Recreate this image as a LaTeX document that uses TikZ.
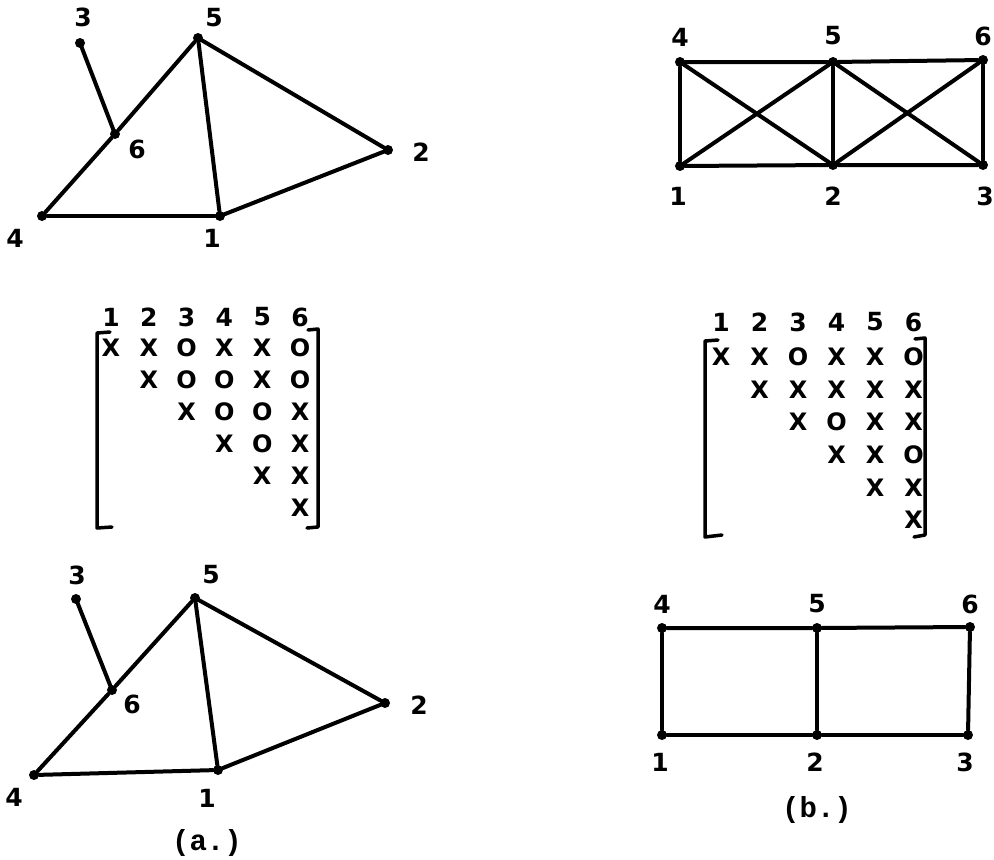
\documentclass[tikz,border=0pt]{standalone}
\usepackage{fontspec}
\setmainfont{DejaVu Sans}
\newfontfamily\capfont{Liberation Mono}
\begin{document}
\begin{tikzpicture}[x=1pt,y=-1pt,
  vtx/.style={circle,fill=black,inner sep=0pt,minimum size=10pt},
  edge/.style={line width=4pt,line cap=round},
  lbl/.style={font=\fontsize{25}{25}\selectfont\bfseries,inner sep=0pt},
  cell/.style={font=\fontsize{24}{24}\selectfont\bfseries,inner sep=0pt},
  brk/.style={line width=3.5pt,line cap=round,line join=round},
  figcap/.style={font=\fontsize{29}{29}\selectfont\capfont\bfseries,inner sep=0pt}]
\path[use as bounding box] (0,0) rectangle (994,860);

% ---------- graph (a) top ----------
\node[vtx] (at3) at (80,43) {};
\node[vtx] (at5) at (198,38) {};
\node[vtx] (at6) at (115,134) {};
\node[vtx] (at2) at (388,150) {};
\node[vtx] (at4) at (42,216) {};
\node[vtx] (at1) at (220,216) {};
\node[lbl] (lat3) at (83,17) {3};
\node[lbl] (lat5) at (214,18) {5};
\node[lbl] (lat6) at (137,149) {6};
\node[lbl] (lat2) at (421,152) {2};
\node[lbl] (lat4) at (15,238) {4};
\node[lbl] (lat1) at (212,238) {1};
\draw[edge] (at3) -- (at6);
\draw[edge] (at4) -- (at6);
\draw[edge] (at6) -- (at5);
\draw[edge] (at5) -- (at1);
\draw[edge] (at5) -- (at2);
\draw[edge] (at2) -- (at1);
\draw[edge] (at4) -- (at1);

% ---------- graph (b) top ----------
\node[vtx] (bt4) at (680,62) {};
\node[vtx] (bt5) at (833,62) {};
\node[vtx] (bt6) at (983,60) {};
\node[vtx] (bt1) at (680,166) {};
\node[vtx] (bt2) at (833,165) {};
\node[vtx] (bt3) at (983,165) {};
\node[lbl] (lbt4) at (680,37) {4};
\node[lbl] (lbt5) at (833,36) {5};
\node[lbl] (lbt6) at (983,36) {6};
\node[lbl] (lbt1) at (678,196) {1};
\node[lbl] (lbt2) at (833,196) {2};
\node[lbl] (lbt3) at (985,196) {3};
\draw[edge] (bt4) -- (bt5) -- (bt6);
\draw[edge] (bt1) -- (bt2) -- (bt3);
\draw[edge] (bt4) -- (bt1);
\draw[edge] (bt5) -- (bt2);
\draw[edge] (bt6) -- (bt3);
\draw[edge] (bt4) -- (bt2);
\draw[edge] (bt1) -- (bt5);
\draw[edge] (bt5) -- (bt3);
\draw[edge] (bt2) -- (bt6);

% ---------- matrix (a) ----------
\foreach \c in {1,...,6}
  \node[lbl] (mah\c) at ({111+37.8*(\c-1)},317) {\c};
\foreach \r/\entries in {1/{1/X,2/X,3/O,4/X,5/X,6/O},
                         2/{2/X,3/O,4/O,5/X,6/O},
                         3/{3/X,4/O,5/O,6/X},
                         4/{4/X,5/O,6/X},
                         5/{5/X,6/X},
                         6/{6/X}}
  \foreach \c/\ch in \entries
    \node[cell] (ma\r\c) at ({111+37.8*(\c-1)},{348+32*(\r-1)}) {\ch};
\draw[brk] (110,332) -- (97,333) -- (97,528) -- (112,527);
\draw[brk] (308,330) -- (318,329) -- (318,527) -- (307,528);

% ---------- matrix (b) ----------
\foreach \c in {1,...,6}
  \node[lbl] (mbh\c) at ({721+38.5*(\c-1)},322) {\c};
\foreach \r/\entries in {1/{1/X,2/X,3/O,4/X,5/X,6/O},
                         2/{2/X,3/X,4/X,5/X,6/X},
                         3/{3/X,4/O,5/X,6/X},
                         4/{4/X,5/X,6/O},
                         5/{5/X,6/X},
                         6/{6/X}}
  \foreach \c/\ch in \entries
    \node[cell] (mb\r\c) at ({721+38.5*(\c-1)},{357+32.6*(\r-1)}) {\ch};
\draw[brk] (718,340) -- (705,341) -- (705,537) -- (722,535);
\draw[brk] (915,339) -- (925,338) -- (925,535) -- (914,537);

% ---------- graph (a) bottom ----------
\node[vtx] (ab3) at (76,599) {};
\node[vtx] (ab5) at (195,598) {};
\node[vtx] (ab6) at (112,690) {};
\node[vtx] (ab2) at (385,703) {};
\node[vtx] (ab4) at (34,775) {};
\node[vtx] (ab1) at (218,770) {};
\node[lbl] (lab3) at (77,575) {3};
\node[lbl] (lab5) at (211,575) {5};
\node[lbl] (lab6) at (132,704) {6};
\node[lbl] (lab2) at (419,705) {2};
\node[lbl] (lab4) at (14,797) {4};
\node[lbl] (lab1) at (207,798) {1};
\draw[edge] (ab3) -- (ab6);
\draw[edge] (ab4) -- (ab6);
\draw[edge] (ab6) -- (ab5);
\draw[edge] (ab5) -- (ab1);
\draw[edge] (ab5) -- (ab2);
\draw[edge] (ab2) -- (ab1);
\draw[edge] (ab4) -- (ab1);
\node[figcap] (capa) at (207,843) {(a.)};

% ---------- graph (b) bottom ----------
\node[vtx] (bb4) at (662,628) {};
\node[vtx] (bb5) at (817,628) {};
\node[vtx] (bb6) at (970,627) {};
\node[vtx] (bb1) at (662,735) {};
\node[vtx] (bb2) at (817,735) {};
\node[vtx] (bb3) at (968,735) {};
\node[lbl] (lbb4) at (662,604) {4};
\node[lbl] (lbb5) at (817,604) {5};
\node[lbl] (lbb6) at (970,604) {6};
\node[lbl] (lbb1) at (660,762) {1};
\node[lbl] (lbb2) at (815,762) {2};
\node[lbl] (lbb3) at (965,762) {3};
\draw[edge] (bb4) -- (bb5) -- (bb6);
\draw[edge] (bb1) -- (bb2) -- (bb3);
\draw[edge] (bb4) -- (bb1);
\draw[edge] (bb5) -- (bb2);
\draw[edge] (bb6) -- (bb3);
\node[figcap] (capb) at (817,810) {(b.)};
\end{tikzpicture}
\end{document}
